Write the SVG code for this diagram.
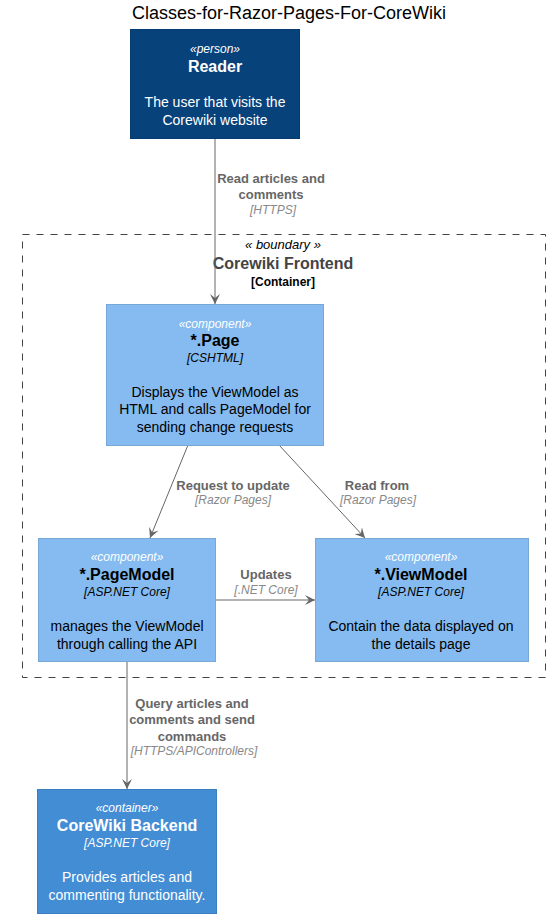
<svg xmlns="http://www.w3.org/2000/svg" width="555" height="922" viewBox="0 0 555 922">
<style>
text{font-family:"Liberation Sans",Arial,sans-serif;text-anchor:middle}
.title{font-size:18px;fill:#000}
.st{font-size:12px;font-style:italic}
.nm{font-size:16px;font-weight:bold}
.ds{font-size:14px}
.tc{font-size:12px;font-style:italic}
.w{fill:#FFFFFF}
.k{fill:#000000}
.lb{font-size:13px;font-weight:bold;fill:#666666}
.lt{font-size:12px;font-style:italic;fill:#888888}
.person{fill:#08427B;stroke:#073B6F;stroke-width:1}
.comp{fill:#85BBF0;stroke:#78A8D8;stroke-width:1}
.cont{fill:#438DD5;stroke:#3C7FC0;stroke-width:1}
.edge{stroke:#666666;stroke-width:1;fill:none;marker-end:url(#ah)}
</style>
<defs>
<marker id="ah" viewBox="0 0 10 10" refX="10" refY="5" markerWidth="10" markerHeight="10" markerUnits="userSpaceOnUse" orient="auto">
<path d="M0,0 L10,5 L0,10 L4,5 Z" fill="#666666"/>
</marker>
</defs>
<rect width="555" height="922" fill="#FFFFFF"/>
<text class="title" x="289" y="19">Classes-for-Razor-Pages-For-CoreWiki</text>

<g id="boundary">
<rect x="22.5" y="234.5" width="523" height="443" fill="none" stroke="#444444" stroke-width="1" stroke-dasharray="7,7"/>
<text x="283" y="249" font-size="13" font-style="italic" fill="#000">« boundary »</text>
<text x="283" y="269" font-size="16" font-weight="bold" fill="#444444">Corewiki Frontend</text>
<text x="283" y="286" font-size="12" font-weight="bold" fill="#000">[Container]</text>
</g>

<g id="connectors">
<line class="edge" x1="215" y1="138" x2="215" y2="304"/>
<line class="edge" x1="188" y1="445" x2="150" y2="538"/>
<line class="edge" x1="279" y1="445" x2="365" y2="538"/>
<line class="edge" x1="215" y1="600" x2="315" y2="600"/>
<line class="edge" x1="127" y1="661" x2="127" y2="789"/>
<text class="lb" x="271" y="183">Read articles and</text>
<text class="lb" x="271" y="199">comments</text>
<text class="lt" x="273" y="214">[HTTPS]</text>
<text class="lb" x="233" y="490">Request to update</text>
<text class="lt" x="233" y="504">[Razor Pages]</text>
<text class="lb" x="377" y="490">Read from</text>
<text class="lt" x="378" y="504">[Razor Pages]</text>
<text class="lb" x="266" y="579">Updates</text>
<text class="lt" x="266" y="594">[.NET Core]</text>
<text class="lb" x="192" y="708">Query articles and</text>
<text class="lb" x="192" y="724">comments and send</text>
<text class="lb" x="192" y="741">commands</text>
<text class="lt" x="194" y="755">[HTTPS/APIControllers]</text>
</g>

<g id="reader">
<rect class="person" x="130.5" y="29.5" width="169" height="109"/>
<text class="st w" x="215" y="53">«person»</text>
<text class="nm w" x="215" y="72">Reader</text>
<text class="ds w" x="215" y="107">The user that visits the</text>
<text class="ds w" x="215" y="125">Corewiki website</text>
</g>

<g id="page">
<rect class="comp" x="106.5" y="304.5" width="217" height="141"/>
<text class="st w" x="215" y="328">«component»</text>
<text class="nm k" x="215" y="346">*.Page</text>
<text class="tc k" x="215" y="362">[CSHTML]</text>
<text class="ds k" x="215" y="397">Displays the ViewModel as</text>
<text class="ds k" x="215" y="414">HTML and calls PageModel for</text>
<text class="ds k" x="215" y="432">sending change requests</text>
</g>

<g id="pagemodel">
<rect class="comp" x="38.5" y="538.5" width="177" height="123"/>
<text class="st w" x="127" y="561">«component»</text>
<text class="nm k" x="127" y="580">*.PageModel</text>
<text class="tc k" x="127" y="596">[ASP.NET Core]</text>
<text class="ds k" x="127" y="631">manages the ViewModel</text>
<text class="ds k" x="127" y="649">through calling the API</text>
</g>

<g id="viewmodel">
<rect class="comp" x="315.5" y="538.5" width="213" height="123"/>
<text class="st w" x="421" y="561">«component»</text>
<text class="nm k" x="421" y="580">*.ViewModel</text>
<text class="tc k" x="421" y="596">[ASP.NET Core]</text>
<text class="ds k" x="421" y="631">Contain the data displayed on</text>
<text class="ds k" x="421" y="649">the details page</text>
</g>

<g id="backend">
<rect class="cont" x="37.5" y="789.5" width="179" height="124"/>
<text class="st w" x="127" y="812">«container»</text>
<text class="nm w" x="127" y="831">CoreWiki Backend</text>
<text class="tc w" x="127" y="847">[ASP.NET Core]</text>
<text class="ds w" x="127" y="882">Provides articles and</text>
<text class="ds w" x="127" y="900">commenting functionality.</text>
</g>
</svg>
